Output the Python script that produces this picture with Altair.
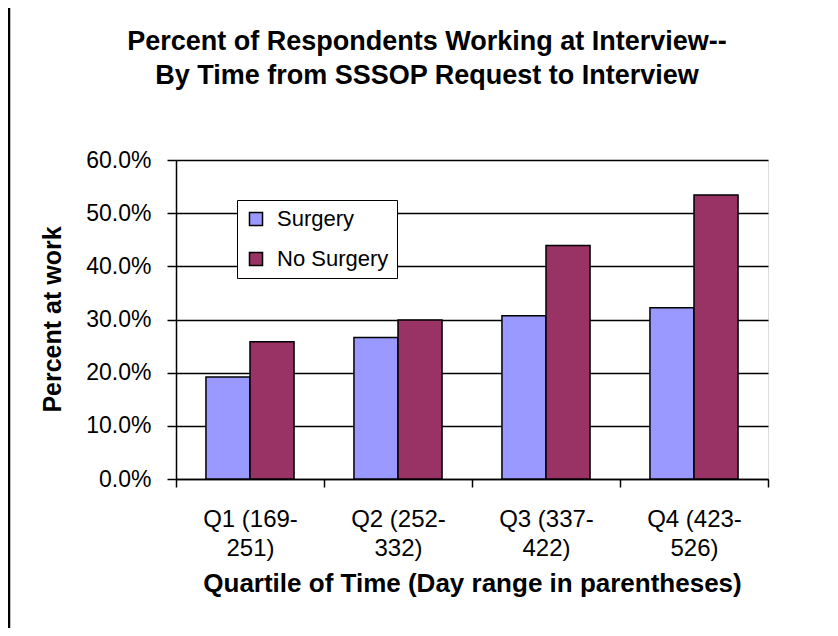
import altair as alt
import pandas as pd

quartiles = ["Q1 (169-251)", "Q2 (252-332)", "Q3 (337-422)", "Q4 (423-526)"]
groups = ["Surgery", "No Surgery"]
surgery = [0.192, 0.266, 0.307, 0.322]
no_surgery = [0.258, 0.299, 0.439, 0.534]
colors = ["#9999FF", "#993366"]
y_ticks = [0.0, 0.1, 0.2, 0.3, 0.4, 0.5, 0.6]
title_lines = ["Percent of Respondents Working at Interview--",
               "By Time from SSSOP Request to Interview"]

rows = []
for q, s, n in zip(quartiles, surgery, no_surgery):
    rows.append({"quartile": q, "group": "Surgery", "value": s})
    rows.append({"quartile": q, "group": "No Surgery", "value": n})
df = pd.DataFrame(rows)

FONT = "Liberation Sans"

label_expr = ("[slice(datum.label, 0, indexof(datum.label, '-') + 1), "
              "slice(datum.label, indexof(datum.label, '-') + 1)]")

bars = alt.Chart(df).mark_bar(stroke="black", strokeWidth=1.5).encode(
    x=alt.X("quartile:N", sort=quartiles,
            scale=alt.Scale(paddingInner=0, paddingOuter=0),
            axis=alt.Axis(title="Quartile of Time (Day range in parentheses)",
                          labelAngle=0, tickBand="extent", labelExpr=label_expr,
                          labelFontSize=24, labelFont=FONT, labelColor="black",
                          labelLineHeight=29, labelPadding=20, tickSize=8,
                          tickColor="black", tickWidth=1.5,
                          domainColor="black", domainWidth=1.5, grid=False,
                          titleFontSize=26, titleFont=FONT, titleFontWeight="bold",
                          titleColor="black", titleY=104, titleBaseline="middle")),
    xOffset=alt.XOffset("group:N", sort=groups,
                        scale=alt.Scale(paddingInner=0, paddingOuter=0.68)),
    y=alt.Y("value:Q", scale=alt.Scale(domain=[0, 0.6], nice=False),
            axis=alt.Axis(title="Percent at work", format=".1%", values=y_ticks,
                          labelFontSize=23, labelFont=FONT, labelColor="black",
                          labelPadding=16, tickSize=9, tickColor="black", tickWidth=1.5,
                          domainColor="black", domainWidth=1.5,
                          grid=True, gridColor="black", gridWidth=1.5,
                          titleFontSize=25, titleFont=FONT, titleFontWeight="bold",
                          titleColor="black", titleAngle=270, titleX=-124, titleY=159,
                          titleAlign="center", titleBaseline="middle")),
    color=alt.Color("group:N", sort=groups,
                    scale=alt.Scale(domain=groups, range=colors),
                    legend=alt.Legend(title=None, orient="none", legendX=61, legendY=40,
                                      fillColor="white", strokeColor="black",
                                      padding=8, symbolType="square", symbolSize=170,
                                      symbolStrokeColor="black", symbolStrokeWidth=1.5,
                                      labelFontSize=22, labelFont=FONT, labelColor="black",
                                      rowPadding=18, labelOffset=10)),
)

title_df = pd.DataFrame({"line": title_lines})
title1 = alt.Chart(title_df.iloc[[0]]).mark_text(
    font=FONT, fontSize=27, fontWeight="bold", color="black",
    align="center", baseline="alphabetic").encode(
    text="line:N", x=alt.value(251), y=alt.value(-110))
title2 = alt.Chart(title_df.iloc[[1]]).mark_text(
    font=FONT, fontSize=27, fontWeight="bold", color="black",
    align="center", baseline="alphabetic").encode(
    text="line:N", x=alt.value(251), y=alt.value(-76))

frame_df = pd.DataFrame({"k": [0]})
top_line = alt.Chart(frame_df).mark_rule(color="black", strokeWidth=2.5).encode(
    x=alt.value(-168), x2=alt.value(680), y=alt.value(-156))
left_line = alt.Chart(frame_df).mark_rule(color="black", strokeWidth=2.5).encode(
    x=alt.value(-167), y=alt.value(-157), y2=alt.value(500))

chart = alt.layer(bars, title1, title2, top_line, left_line).properties(
    width=592, height=319,
    autosize=alt.AutoSizeParams(type="none"),
    padding={"left": 168, "top": 152, "right": 62, "bottom": 149},
).configure_view(fill="#C0C0C0", stroke="#808080", strokeWidth=1.5).configure(
    background="white")

chart.save("out.html", embed_options={"renderer": "svg", "actions": False})
